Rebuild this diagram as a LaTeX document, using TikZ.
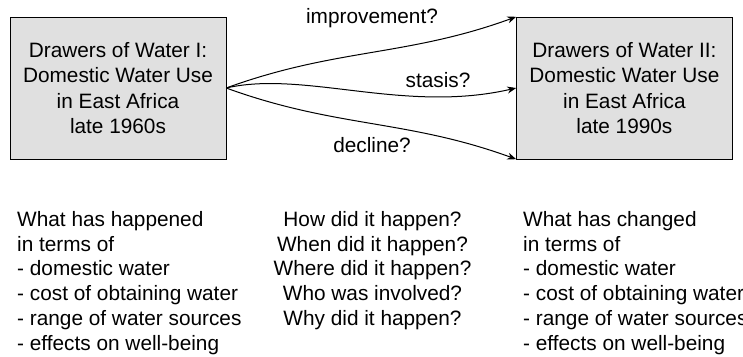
\documentclass[tikz,border=0pt]{standalone}
\usepackage{fontspec}
\setmainfont{Liberation Sans}
\usetikzlibrary{positioning, arrows.meta, shadows}
\tikzstyle{survey} = [rectangle, minimum width=216pt, minimum height=142pt, inner sep=0pt, align=center, draw=black, fill=black!12, drop shadow={shadow xshift=1pt, shadow yshift=-1pt, fill=black!60, opacity=1}]
\tikzstyle{arrow} = [line width=1pt,->,>={Stealth[length=9pt,width=7pt]}]
\tikzstyle{question} = [inner sep=0pt, font=\fontsize{20.8}{24.8}\selectfont]

\begin{document}
\begin{tikzpicture}[x=1pt, y=1pt, font=\fontsize{20.8}{25.2}\selectfont]
\path[use as bounding box, clip] (0,0) rectangle (743,-356);

% Surveys
\node (dw1) [survey] at (118,-88) {Drawers of Water I:\\Domestic Water Use\\in East Africa\\late 1960s};
\node (dw2) [survey, right=290pt of dw1] {Drawers of Water II:\\Domestic Water Use\\in East Africa\\late 1990s};

% Labels
\node (improve) at (372,-18) {improvement?};
\node (stasis) at (438,-80) {stasis?};
\node (decline) at (372,-145) {decline?};

% Arrows
\draw [arrow] (dw1.east) to[out=20,in=200] (dw2.north west);
\draw [arrow] (dw1.east) to[out=13,in=193,out distance=80pt,in distance=115pt] (dw2.west);
\draw [arrow] (dw1.east) to[out=-20,in=160] (dw2.south west);

% Questions
\node (before) [question, anchor=north west, align=left] at (17,-211) {What has happened\\in terms of\\- domestic water\\- cost of obtaining water\\- range of water sources\\- effects on well-being};
\node (how) [question, anchor=north, align=center] at (372.5,-211) {How did it happen?\\When did it happen?\\Where did it happen?\\Who was involved?\\Why did it happen?};
\node (after) [question, anchor=north west, align=left] at (523,-211) {What has changed\\in terms of\\- domestic water\\- cost of obtaining water\\- range of water sources\\- effects on well-being};

\end{tikzpicture}
\end{document}
